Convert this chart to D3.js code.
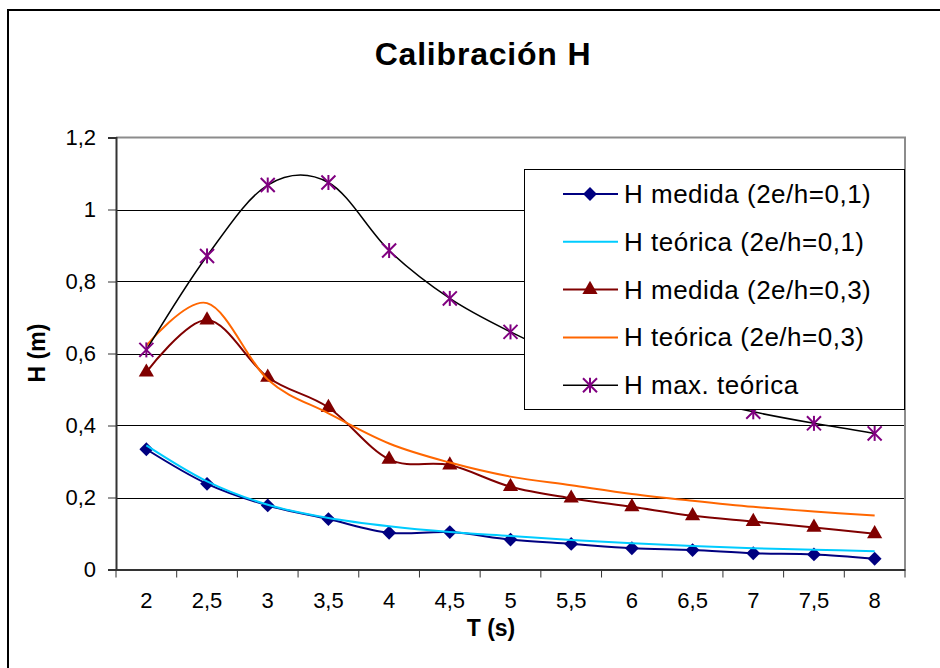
<!DOCTYPE html>
<html>
<head>
<meta charset="utf-8">
<script src="https://cdn.jsdelivr.net/npm/d3@7"></script>
<style>
  body { margin: 0; background: #fff; }
  svg { display: block; font-family: "Liberation Sans", Arial, sans-serif; }
</style>
</head>
<body>
<svg id="chart" width="940" height="668"></svg>
<script>
// periodos (s) y alturas (m)
var periods = [2, 2.5, 3, 3.5, 4, 4.5, 5, 5.5, 6, 6.5, 7, 7.5, 8];
var hMedida01  = [0.334, 0.238, 0.178, 0.140, 0.102, 0.104, 0.083, 0.071, 0.059, 0.054, 0.045, 0.042, 0.030];
var hTeorica01 = [0.345, 0.245, 0.180, 0.143, 0.120, 0.104, 0.093, 0.082, 0.073, 0.065, 0.059, 0.055, 0.051];
var hMedida03  = [0.548, 0.693, 0.534, 0.450, 0.306, 0.290, 0.230, 0.198, 0.174, 0.149, 0.133, 0.117, 0.099];
var hTeorica03 = [0.622, 0.740, 0.528, 0.434, 0.350, 0.297, 0.258, 0.234, 0.210, 0.191, 0.174, 0.161, 0.150];
var hMaxTeorica = [0.610, 0.871, 1.068, 1.075, 0.886, 0.753, 0.660, 0.585, 0.525, 0.478, 0.438, 0.406, 0.378];
var yTicks = [0, 0.2, 0.4, 0.6, 0.8, 1, 1.2];

var series = [
  {name: "H medida (2e/h=0,1)",  values: hMedida01,  line: "#000080", width: 2,   marker: "diamond"},
  {name: "H teórica (2e/h=0,1)", values: hTeorica01, line: "#00CCFF", width: 2,   marker: null},
  {name: "H medida (2e/h=0,3)",  values: hMedida03,  line: "#800000", width: 2,   marker: "triangle"},
  {name: "H teórica (2e/h=0,3)", values: hTeorica03, line: "#FF6600", width: 2,   marker: null},
  {name: "H max. teórica",       values: hMaxTeorica, line: "#000000", width: 1.5, marker: "star"}
];

var comma = function (d) { return String(+d.toFixed(1)).replace(".", ","); };

var svg = d3.select("#chart");
var plot = {left: 116, right: 905, top: 137.5, bottom: 569.5};

// marco exterior del grafico
svg.append("rect")
  .attr("x", 8).attr("y", 10)
  .attr("width", 960).attr("height", 700)
  .attr("fill", "#fff")
  .attr("stroke", "#000")
  .attr("stroke-width", 2);

var x = d3.scaleBand()
  .domain(periods)
  .range([plot.left, plot.right])
  .paddingInner(0).paddingOuter(0);
var y = d3.scaleLinear()
  .domain([0, 1.2])
  .range([plot.bottom, plot.top]);
var cx = function (i) { return x(periods[i]) + x.bandwidth() / 2; };

// lineas de division
svg.append("g")
  .selectAll("line")
  .data(yTicks.filter(function (d) { return d > 0 && d < 1.2; }))
  .enter().append("line")
  .attr("x1", plot.left).attr("x2", plot.right)
  .attr("y1", function (d) { return Math.round(y(d)) + 0.5; })
  .attr("y2", function (d) { return Math.round(y(d)) + 0.5; })
  .attr("stroke", "#000").attr("stroke-width", 1);

// borde superior y derecho del area de trazado
svg.append("path")
  .attr("d", "M" + plot.left + "," + y(1.2) + "H" + plot.right + "V" + plot.bottom)
  .attr("fill", "none").attr("stroke", "#8c8c8c").attr("stroke-width", 2);

// eje Y
var yAxis = svg.append("g")
  .attr("transform", "translate(" + plot.left + ",0)")
  .call(d3.axisLeft(y).tickValues(yTicks).tickFormat(comma).tickSize(8).tickPadding(12));
yAxis.select(".domain").attr("stroke", "#333").attr("stroke-width", 2);
yAxis.selectAll(".tick line").attr("stroke", "#333");
yAxis.selectAll("text").attr("font-size", 22).attr("fill", "#000");

// eje X: etiquetas centradas, marcas en los limites de cada categoria
var xAxis = svg.append("g")
  .attr("transform", "translate(0," + plot.bottom + ")")
  .call(d3.axisBottom(x).tickFormat(comma).tickSize(0).tickPadding(23));
xAxis.select(".domain").attr("stroke", "#333").attr("stroke-width", 2);
xAxis.selectAll("text").attr("font-size", 22).attr("fill", "#000");
xAxis.selectAll(".bound")
  .data(periods.map(function (p) { return x(p); }).concat([plot.right]))
  .enter().append("line")
  .attr("class", "bound")
  .attr("x1", function (d) { return d; }).attr("x2", function (d) { return d; })
  .attr("y1", 0).attr("y2", 8)
  .attr("stroke", "#333").attr("stroke-width", 1);

// marcadores al estilo Excel
function drawMarker(m, kind) {
  if (kind === "diamond") {
    m.append("path")
      .attr("d", d3.symbol(d3.symbolSquare, 96)())
      .attr("transform", "rotate(45)")
      .attr("fill", "#000080");
  } else if (kind === "triangle") {
    m.append("path")
      .attr("d", d3.symbol(d3.symbolTriangle, 100)())
      .attr("fill", "#800000");
  } else if (kind === "star") {
    m.append("path")
      .attr("d", d3.symbol(d3.symbolTimes, 130)())
      .attr("fill", "none").attr("stroke", "#800080").attr("stroke-width", 2);
    m.append("line")
      .attr("y1", -7.5).attr("y2", 7.5)
      .attr("stroke", "#800080").attr("stroke-width", 2);
  }
}

// series
var line = d3.line()
  .x(function (d, i) { return cx(i); })
  .y(function (d) { return y(d); })
  .curve(d3.curveCardinal.tension(0));

series.forEach(function (s) {
  var g = svg.append("g");
  g.append("path")
    .attr("d", line(s.values))
    .attr("fill", "none")
    .attr("stroke", s.line)
    .attr("stroke-width", s.width);
  if (s.marker) {
    g.selectAll(".m")
      .data(s.values)
      .enter().append("g")
      .attr("class", "m")
      .attr("transform", function (d, i) { return "translate(" + cx(i) + "," + y(d) + ")"; })
      .each(function () { drawMarker(d3.select(this), s.marker); });
  }
});

// leyenda
var legend = svg.append("g");
legend.append("rect")
  .attr("x", 524.5).attr("y", 169.5)
  .attr("width", 380).attr("height", 240)
  .attr("fill", "#fff").attr("stroke", "#000").attr("stroke-width", 1);

var item = legend.selectAll(".item")
  .data(series)
  .enter().append("g")
  .attr("class", "item")
  .attr("transform", function (d, i) { return "translate(0," + (194 + i * 47.8) + ")"; });
item.append("line")
  .attr("x1", 563).attr("x2", 618)
  .attr("stroke", function (d) { return d.line; })
  .attr("stroke-width", function (d) { return d.width; });
item.each(function (d) {
  var m = d3.select(this).append("g").attr("transform", "translate(590,0)");
  drawMarker(m, d.marker);
});
item.append("text")
  .attr("x", 624).attr("y", 9)
  .attr("font-size", 26)
  .attr("letter-spacing", 0.5)
  .text(function (d) { return d.name; });

// titulos
svg.append("text")
  .attr("x", 483).attr("y", 65)
  .attr("text-anchor", "middle")
  .attr("font-size", 32).attr("font-weight", "bold")
  .attr("letter-spacing", 0.8)
  .text("Calibración H");
svg.append("text")
  .attr("x", 491).attr("y", 636)
  .attr("text-anchor", "middle")
  .attr("font-size", 23).attr("font-weight", "bold")
  .text("T (s)");
svg.append("text")
  .attr("transform", "translate(45,353) rotate(-90)")
  .attr("text-anchor", "middle")
  .attr("font-size", 23).attr("font-weight", "bold")
  .text("H (m)");
</script>
</body>
</html>
